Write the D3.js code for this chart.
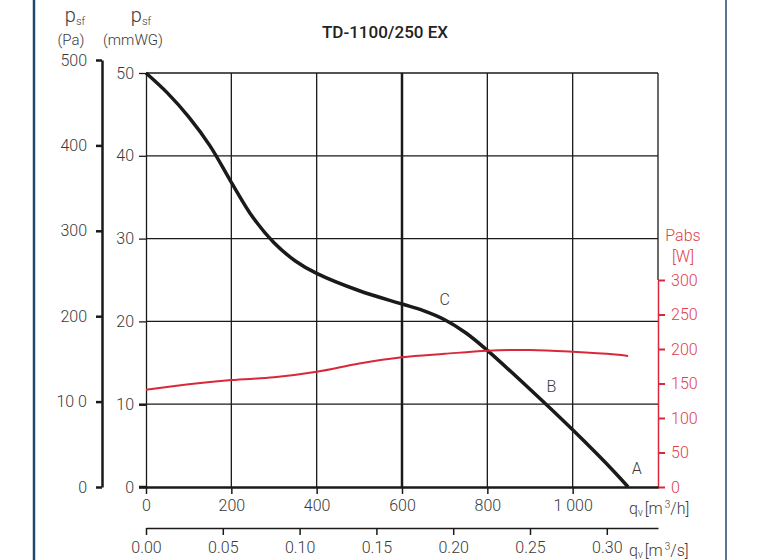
<!DOCTYPE html>
<html>
<head>
<meta charset="utf-8">
<script src="https://cdn.jsdelivr.net/npm/d3@7"></script>
<style>
  body { margin: 0; background: #fff; }
  svg { display: block; }
  text { font-family: Roboto, "Noto Sans", sans-serif; font-weight: 300; fill: #3a3a3a; }
</style>
</head>
<body>
<svg width="780" height="560"></svg>
<script>
// fan curve
var flow = [0, 50, 100, 150, 200, 250, 300, 350, 400, 500, 600, 650, 700, 750, 800, 900, 1000, 1100, 1130];
var pressure = [50, 47.6, 44.7, 41.2, 36.8, 32.6, 29.5, 27.3, 25.8, 23.7, 22.1, 21.3, 20.2, 18.6, 16.5, 11.8, 6.9, 1.7, 0];

var powerFlow = [0, 100, 200, 300, 400, 500, 600, 700, 800, 900, 1000, 1100, 1130];
var power = [141, 149, 155, 159, 167, 179, 188, 193, 197.5, 198.5, 196, 192, 190];

var pointNames = ["C", "B", "A"];
var pointFlow = [700, 950, 1150];
var pointPressure = [22, 11.5, 1.6];

var flowTicks = [0, 200, 400, 600, 800, 1000];
var flowLabels = ["0", "200", "400", "600", "800", "1 000"];
var flowSecTicks = [0, 0.05, 0.10, 0.15, 0.20, 0.25, 0.30];
var mmTicks = [0, 10, 20, 30, 40, 50];
var paTicks = [0, 100, 200, 300, 400, 500];
var paLabels = ["0", "10 0", "200", "300", "400", "500"];
var wTicks = [0, 50, 100, 150, 200, 250, 300];

function main(){
    var svg = d3.select("svg");
    var red = "#d9283a", redText = "#e0404e", ink = "#1a1a1a";

    var x = d3.scaleLinear().domain([0, 1200]).range([146, 658]),
        xs = d3.scaleLinear().domain([0, 1200 / 3600]).range([146, 658]),
        y = d3.scaleLinear().domain([0, 50]).range([487, 73]),
        yPa = d3.scaleLinear().domain([0, 500]).range([487, 60]),
        yW = d3.scaleLinear().domain([0, 300]).range([487, 280]);

    // page border lines
    svg.append("line").attr("x1", 34).attr("x2", 34).attr("y1", 0).attr("y2", 560)
        .attr("stroke", "#24476b").attr("stroke-width", 2.5);
    svg.append("line").attr("x1", 726).attr("x2", 726).attr("y1", 0).attr("y2", 560)
        .attr("stroke", "#24476b").attr("stroke-width", 1.5);

    svg.append("text").attr("x", 385).attr("y", 38).attr("text-anchor", "middle")
        .style("font-size", "17px").style("font-weight", 500).style("fill", "#222")
        .text("TD-1100/250 EX");

    // headers of the two pressure axes
    function psf(cx){
        var t = svg.append("text").attr("x", cx).attr("y", 22).attr("text-anchor", "middle")
            .style("font-size", "20px");
        t.append("tspan").text("p");
        t.append("tspan").attr("dy", 3).style("font-size", "11px").text("sf");
    }
    psf(75); psf(141);
    svg.append("text").attr("x", 71).attr("y", 45).attr("text-anchor", "middle")
        .style("font-size", "15px").text("(Pa)");
    svg.append("text").attr("x", 133).attr("y", 45).attr("text-anchor", "middle")
        .style("font-size", "15px").text("(mmWG)");

    var g = svg.append("g");

    // grid
    g.selectAll(".hgrid").data(mmTicks.slice(1)).enter().append("line")
        .attr("x1", x(0)).attr("x2", x(1200))
        .attr("y1", function(d){ return y(d); }).attr("y2", function(d){ return y(d); })
        .attr("stroke", ink).attr("stroke-width", 1.3);
    g.selectAll(".vgrid").data(flowTicks.slice(1)).enter().append("line")
        .attr("x1", function(d){ return x(d); }).attr("x2", function(d){ return x(d); })
        .attr("y1", y(50)).attr("y2", y(0))
        .attr("stroke", ink).attr("stroke-width", function(d){ return d == 600 ? 2.5 : 1.3; });
    g.append("line").attr("x1", x(1200)).attr("x2", x(1200)).attr("y1", y(50)).attr("y2", yW(300))
        .attr("stroke", ink).attr("stroke-width", 1.3);

    function style(sel, color, size){
        sel.selectAll("text").style("font-size", size || "16px").style("fill", color)
            .style("font-family", "Roboto, 'Noto Sans', sans-serif").style("font-weight", 300);
        sel.selectAll("line").attr("stroke", color);
        sel.select(".domain").attr("stroke", color);
    }

    // Pa axis
    var aPa = g.append("g").attr("transform", "translate(102,0)")
        .call(d3.axisLeft(yPa).tickValues(paTicks).tickFormat(function(d, i){ return paLabels[i]; })
            .tickSize(6).tickSizeOuter(0).tickPadding(9));
    style(aPa, "#3a3a3a");
    aPa.select(".domain").attr("stroke", ink).attr("stroke-width", 2.5);
    aPa.selectAll("line").attr("stroke", ink).attr("stroke-width", 2.5);

    // mmWG axis
    var aMm = g.append("g").attr("transform", "translate(146,0)")
        .call(d3.axisLeft(y).tickValues(mmTicks).tickSize(7).tickSizeOuter(0).tickPadding(5));
    style(aMm, "#3a3a3a");
    aMm.select(".domain").attr("stroke", ink).attr("stroke-width", 1.3);
    aMm.selectAll("line").attr("stroke", ink).attr("stroke-width", function(d){ return d <= 10 ? 2.5 : 1.3; });

    // power axis
    var aW = g.append("g").attr("transform", "translate(658,0)")
        .call(d3.axisRight(yW).tickValues(wTicks).tickSize(7).tickSizeOuter(0).tickPadding(6));
    style(aW, redText);
    aW.select(".domain").attr("stroke", red).attr("stroke-width", 1.5);
    aW.selectAll("line").attr("stroke", red).attr("stroke-width", 2);
    svg.append("text").attr("x", 683).attr("y", 241).attr("text-anchor", "middle")
        .style("font-size", "16px").style("fill", redText).text("Pabs");
    svg.append("text").attr("x", 683).attr("y", 262).attr("text-anchor", "middle")
        .style("font-size", "16px").style("fill", redText).text("[W]");

    // m3/h axis
    var aX = g.append("g").attr("transform", "translate(0,487)")
        .call(d3.axisBottom(x).tickValues(flowTicks).tickFormat(function(d, i){ return flowLabels[i]; })
            .tickSize(7).tickSizeOuter(0).tickPadding(6));
    style(aX, "#3a3a3a");
    aX.select(".domain").attr("stroke", ink).attr("stroke-width", 2.5);
    aX.selectAll("line").attr("stroke", ink).attr("stroke-width", 1.5);
    g.append("line").attr("x1", 139).attr("x2", 146).attr("y1", 487).attr("y2", 487)
        .attr("stroke", ink).attr("stroke-width", 2.5);

    // m3/s axis
    var aXs = g.append("g").attr("transform", "translate(0,528)")
        .call(d3.axisBottom(xs).tickValues(flowSecTicks).tickFormat(d3.format(".2f"))
            .tickSize(7).tickSizeOuter(0).tickPadding(7));
    style(aXs, "#3a3a3a");
    aXs.select(".domain").attr("stroke", ink).attr("stroke-width", 1.3);
    aXs.selectAll("line").attr("stroke", ink).attr("stroke-width", 1.5);

    function unit(xx, yy, last){
        var t = svg.append("text").attr("x", xx).attr("y", yy).style("font-size", "16px");
        t.append("tspan").text("q");
        t.append("tspan").attr("dy", 2).style("font-size", "10px").text("v");
        t.append("tspan").attr("dy", -2).attr("dx", 2).text("[m");
        t.append("tspan").attr("dy", -6).attr("dx", 2).style("font-size", "10px").text("3");
        t.append("tspan").attr("dy", 6).text(last);
    }
    unit(629, 514, "/h]");
    unit(629, 556, "/s]");

    // curves
    var pLine = d3.line().x(function(d){ return x(d[0]); }).y(function(d){ return y(d[1]); })
        .curve(d3.curveCatmullRom.alpha(0.5));
    g.append("path").datum(d3.zip(flow, pressure)).attr("d", pLine)
        .attr("fill", "none").attr("stroke", ink).attr("stroke-width", 3.5);

    var wLine = d3.line().x(function(d){ return x(d[0]); }).y(function(d){ return yW(d[1]); })
        .curve(d3.curveCatmullRom.alpha(0.5));
    g.append("path").datum(d3.zip(powerFlow, power)).attr("d", wLine)
        .attr("fill", "none").attr("stroke", red).attr("stroke-width", 2);

    g.selectAll(".pt").data(pointNames).enter().append("text")
        .attr("x", function(d, i){ return x(pointFlow[i]); })
        .attr("y", function(d, i){ return y(pointPressure[i]); })
        .attr("text-anchor", "middle").style("font-size", "16px")
        .text(function(d){ return d; });
}
main();
</script>
</body>
</html>
